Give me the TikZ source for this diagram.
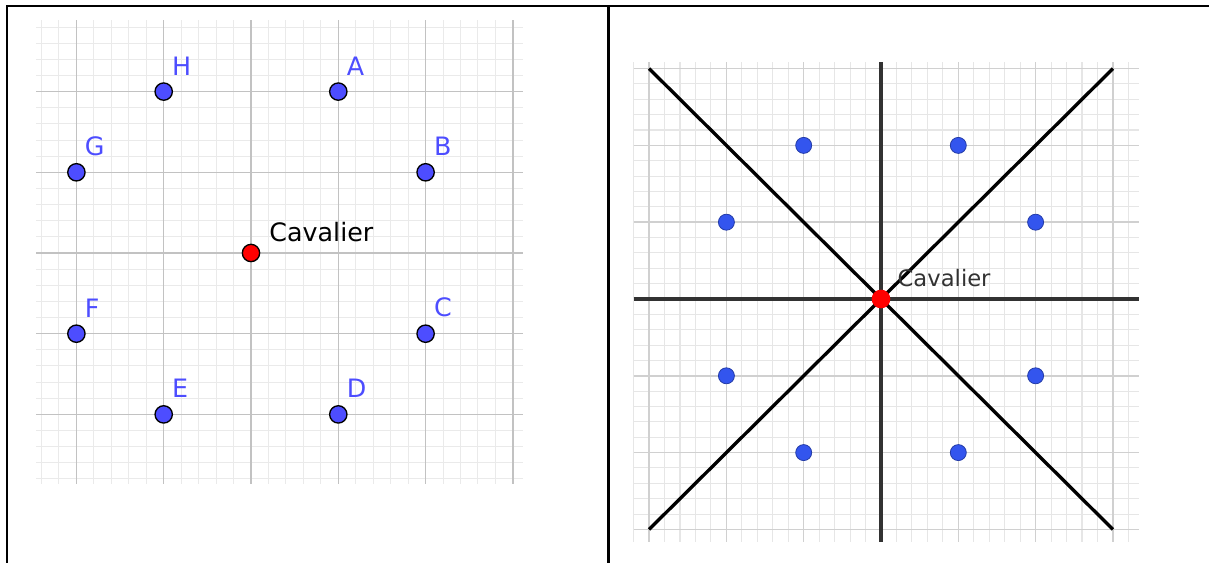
\documentclass[tikz,border=0pt]{standalone}
\usepackage{fontspec}
\usepackage{tikz}
\usetikzlibrary{positioning}
\newfontfamily\geofont{DejaVu Sans}
\definecolor{geoblue}{RGB}{77,77,255}
\definecolor{imgblue}{RGB}{51,85,238}
\definecolor{geored}{RGB}{255,0,0}
\definecolor{gridminor}{RGB}{234,234,234}
\definecolor{gridmajor}{RGB}{194,194,194}
\definecolor{imgminor}{RGB}{230,230,230}
\definecolor{imgmajor}{RGB}{208,208,208}
\definecolor{axisgray}{RGB}{50,50,50}

\begin{document}
\begin{tikzpicture}[x=0.75pt, y=0.75pt,
    frame/.style={line width=1.9pt, black},
    minorline/.style={line width=0.75pt, gridminor},
    majorline/.style={line width=1.1pt, gridmajor},
    imgminorline/.style={line width=0.8pt, imgminor},
    imgmajorline/.style={line width=1.1pt, imgmajor},
    bluedot/.style={circle, draw=black, line width=1pt, fill=geoblue,
                    minimum size=13pt, inner sep=0pt},
    reddot/.style={circle, draw=black, line width=1pt, fill=geored,
                   minimum size=13pt, inner sep=0pt},
    imgdot/.style={circle, draw=imgblue!70!black, line width=0.6pt, fill=imgblue,
                   minimum size=12pt, inner sep=0pt},
    imgred/.style={circle, fill=geored, minimum size=14pt, inner sep=0pt},
    ptlabel/.style={font=\geofont\fontsize{19}{22}\selectfont, text=geoblue, inner sep=0pt},
    cavlabel/.style={font=\geofont\fontsize{19}{22}\selectfont, text=black, inner sep=0pt},
    imglabel/.style={font=\geofont\fontsize{17}{20}\selectfont, text=axisgray, inner sep=0pt},
    axisline/.style={line width=2.5pt, axisgray},
    diag/.style={line width=2.5pt, black}
]
\useasboundingbox (0,0) rectangle (1209,563);

% Table frame
\draw[frame] (7,0) -- (7,557) -- (1209,557);
\draw[frame] (608.5,0) -- (608.5,557);

% Left panel: knight moves on the grid
\begin{scope}[shift={(188.25pt,232.5pt)}, x=65.475pt, y=60.525pt]
  \foreach \i in {-12,...,15}
    \draw[minorline] (\i/5,-2.86) -- (\i/5,2.89);
  \foreach \j in {-14,...,14}
    \draw[minorline] (-2.46,\j/5) -- (3.11,\j/5);
  \foreach \i in {-2,...,3}
    \draw[majorline] (\i,-2.86) -- (\i,2.89);
  \foreach \j in {-2,...,2}
    \draw[majorline] (-2.46,\j) -- (3.11,\j);

  \node[reddot] (cav) at (0,0) {};
  \node[cavlabel, above right=3.5pt and 8.7pt of cav] (cavtext) {Cavalier};

  \foreach \name/\pos in {H/{(-1,2)}, A/{(1,2)}, G/{(-2,1)}, B/{(2,1)},
                          F/{(-2,-1)}, C/{(2,-1)}, E/{(-1,-2)}, D/{(1,-2)}} {
    \node[bluedot] (\name) at \pos {};
    \node[ptlabel, above right=7.2pt and 1.2pt of \name] (\name lbl) {\name};
  }
\end{scope}

% Right panel: the same moves with the axes and diagonals
\begin{scope}[shift={(660.75pt,198pt)}, x=57.975pt, y=57.6pt]
  \foreach \i in {-16,...,16}
    \draw[imgminorline] (\i/5,-3.16) -- (\i/5,3.09);
  \foreach \j in {-15,...,15}
    \draw[imgminorline] (-3.2,\j/5) -- (3.34,\j/5);
  \foreach \i in {-3,...,3}
    \draw[imgmajorline] (\i,-3.16) -- (\i,3.09);
  \foreach \j in {-3,...,3}
    \draw[imgmajorline] (-3.2,\j) -- (3.34,\j);

  \coordinate (xl) at (-3.2,0);
  \coordinate (xr) at (3.34,0);
  \coordinate (yt) at (0,3.09);
  \coordinate (yb) at (0,-3.16);
  \coordinate (nw) at (-3,3);
  \coordinate (ne) at (3,3);
  \coordinate (sw) at (-3,-3);
  \coordinate (se) at (3,-3);
  \draw[axisline] (xl) -- (xr);
  \draw[axisline] (yb) -- (yt);
  \draw[diag] (nw) -- (se);
  \draw[diag] (ne) -- (sw);

  \foreach \name/\pos in {h/{(-1,2)}, a/{(1,2)}, g/{(-2,1)}, b/{(2,1)},
                          f/{(-2,-1)}, c/{(2,-1)}, e/{(-1,-2)}, d/{(1,-2)}}
    \node[imgdot] (\name) at \pos {};

  \node[imgred] (cav2) at (0,0) {};
  \node[imglabel, above right=4.2pt and 7.2pt of cav2] (cav2text) {Cavalier};
\end{scope}

\end{tikzpicture}
\end{document}
